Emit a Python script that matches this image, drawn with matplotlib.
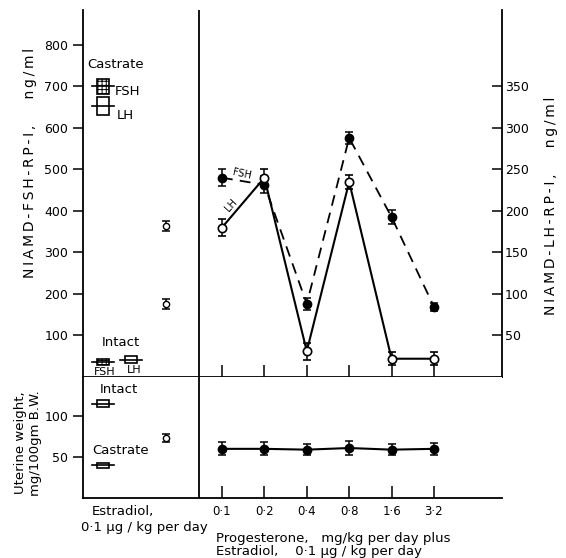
import numpy as np
import matplotlib
matplotlib.use("Agg")
import matplotlib.pyplot as plt
from matplotlib.patches import Rectangle

# Progesterone doses (mg/kg per day), all with estradiol 0.1 ug/kg per day
doses = [0.1, 0.2, 0.4, 0.8, 1.6, 3.2]
dose_labels = ['0·1', '0·2', '0·4', '0·8', '1·6', '3·2']

# Serum FSH (ng/ml, left axis) and LH (ng/ml, right axis), mean and SE
fsh = [480, 463, 176, 576, 385, 169]
fsh_se = [20, 20, 15, 15, 17, 10]
lh = [180, 240, 31, 235, 22, 22]
lh_se = [10, 10, 10, 8, 8, 8]

# Uterine weight, mg/100 gm body weight
uterine = [60, 60, 59, 61, 59, 60]
uterine_se = [8, 8, 7, 8, 7, 7]

# Control groups
castrate_fsh, castrate_fsh_se = 700, 18
castrate_lh, castrate_lh_se = 326, 11
intact_fsh, intact_fsh_se = 36, 7
intact_lh, intact_lh_se = 21, 4
estradiol_fsh, estradiol_fsh_se = 364, 12
estradiol_lh, estradiol_lh_se = 88, 6
uterine_intact, uterine_intact_se = 115, 4
uterine_castrate, uterine_castrate_se = 40, 3
uterine_estradiol, uterine_estradiol_se = 73, 5

plt.rcParams['font.family'] = 'DejaVu Sans'
plt.rcParams['hatch.linewidth'] = 0.7

# doses sit on a log2 scale; control groups to the left of the divider
xpos = np.log2(np.array(doses) / 0.1)
ctrl_x = -2.81      # castrate / intact FSH boxes
ctrl_lh_x = -2.15   # intact LH box
estr_x = -1.32      # estradiol alone
divider_x = -0.54
xlim = (-3.278, 6.604)


def spaced(s):
    # letter-spaced axis titles
    return '\u2009'.join(s)


fig = plt.figure(figsize=(5.66, 5.58), dpi=100)
ax = fig.add_axes([0.1466, 0.3244, 0.7403, 0.6577])
ax2 = ax.twinx()
axb = fig.add_axes([0.1466, 0.1075, 0.7403, 0.2168])

fmax = 884
ax.set_ylim(0, fmax)
ax2.set_ylim(0, fmax / 2)
ax.set_xlim(*xlim)
axb.set_xlim(*xlim)
axb.set_ylim(0, 147.6)

for a in (ax, ax2, axb):
    a.spines['top'].set_visible(False)
ax.spines['right'].set_visible(False)
ax2.spines['left'].set_visible(False)
ax2.spines['bottom'].set_visible(False)
axb.spines['right'].set_visible(False)
for a in (ax, ax2, axb):
    for s in a.spines.values():
        s.set_linewidth(1.3)

ax.set_yticks([100, 200, 300, 400, 500, 600, 700, 800])
ax.tick_params(axis='y', direction='out', length=7, width=1.1, labelsize=9)
ax2.set_yticks([50, 100, 150, 200, 250, 300, 350])
ax2.tick_params(axis='y', direction='in', length=7, width=1.1, labelsize=9, pad=2)
ax.set_xticks(xpos)
ax.set_xticklabels([])
ax.tick_params(axis='x', direction='in', length=9, width=1.1)
axb.set_xticks(xpos)
axb.set_xticklabels(dose_labels, fontsize=8.5)
axb.tick_params(axis='x', direction='in', length=9, width=1.1, pad=5)
axb.set_yticks([50, 100])
axb.tick_params(axis='y', direction='out', length=7, width=1.1, labelsize=9)

ax.axvline(divider_x, color='k', lw=1.3)
axb.axvline(divider_x, color='k', lw=1.3)

ebar = dict(capsize=3, elinewidth=1.1, capthick=1.1)

# FSH (filled, dashed) and LH (open, solid)
ax.plot(xpos, fsh, ls=(0, (6, 4)), color='k', lw=1.3, zorder=2)
ax.errorbar(xpos, fsh, yerr=fsh_se, fmt='o', ms=6, mfc='k', mec='k', color='k', zorder=4, **ebar)
ax2.plot(xpos, lh, '-', color='k', lw=1.5, zorder=2)
ax2.errorbar(xpos, lh, yerr=lh_se, fmt='o', ms=6, mfc='white', mec='k', mew=1.2, color='k', zorder=4, **ebar)

# estradiol alone
ax.errorbar([estr_x], [estradiol_fsh], yerr=[estradiol_fsh_se], fmt='o', ms=4.5, mfc='white', mec='k', color='k', **ebar)
ax2.errorbar([estr_x], [estradiol_lh], yerr=[estradiol_lh_se], fmt='o', ms=4.5, mfc='white', mec='k', color='k', **ebar)


def box(a, x, y, se, hatch=None, half=0.14, line_half=0.26):
    a.add_patch(Rectangle((x - half, y - se), 2 * half, 2 * se, fill=True, facecolor='white',
                          edgecolor='k', lw=1.2, hatch=hatch, zorder=3))
    a.plot([x - line_half, x + line_half], [y, y], color='k', lw=1.2, zorder=4)


box(ax, ctrl_x, castrate_fsh, castrate_fsh_se, hatch='++++')
box(ax2, ctrl_x, castrate_lh, castrate_lh_se)
box(ax, ctrl_x, intact_fsh, intact_fsh_se, hatch='++++')
box(ax2, ctrl_lh_x, intact_lh, intact_lh_se)
box(axb, ctrl_x, uterine_intact, uterine_intact_se)
box(axb, ctrl_x, uterine_castrate, uterine_castrate_se)

# uterine weight
axb.plot(xpos, uterine, '-', color='k', lw=1.5)
axb.errorbar(xpos, uterine, yerr=uterine_se, fmt='o', ms=6, mfc='k', mec='k', color='k', **ebar)
axb.errorbar([estr_x], [uterine_estradiol], yerr=[uterine_estradiol_se], fmt='o', ms=4.5, mfc='white', mec='k', color='k', **ebar)

# group labels
ax.text(-3.18, 752, 'Castrate', fontsize=9.5, va='center', ha='left')
ax.text(-2.52, 687, 'FSH', fontsize=9.5, va='center', ha='left')
ax.text(-2.48, 631, 'LH', fontsize=9.5, va='center', ha='left')
ax.text(-2.83, 84, 'Intact', fontsize=9.5, va='center', ha='left')
ax.text(-2.76, 12, 'FSH', fontsize=8, va='center', ha='center')
ax.text(-2.08, 16, 'LH', fontsize=8, va='center', ha='center')
ax.text(0.47, 489, 'FSH', fontsize=7, va='center', ha='center', rotation=-12)
ax.text(0.21, 414, 'LH', fontsize=7, va='center', ha='center', rotation=48)
axb.text(-2.88, 133, 'Intact', fontsize=9.5, va='center', ha='left')
axb.text(-3.07, 58, 'Castrate', fontsize=9.5, va='center', ha='left')

# axis titles
fig.text(30 / 566, 1 - 163 / 558, spaced('NIAMD-FSH-RP-I,') + '      ' + spaced('ng/ml'),
         rotation=90, fontsize=10, ha='center', va='center')
fig.text(551 / 566, 1 - 206 / 558, spaced('NIAMD-LH-RP-I,') + '      ' + spaced('ng/ml'),
         rotation=90, fontsize=10, ha='center', va='center')
fig.text(28 / 566, 1 - 443 / 558, 'Uterine weight,\nmg/100gm B.W.', rotation=90,
         fontsize=9.5, ha='center', va='center', linespacing=1.1)
fig.text(92 / 566, 1 - 512 / 558, 'Estradiol,', fontsize=9.5, ha='left', va='center')
fig.text(81 / 566, 1 - 527 / 558, '0·1 µg / kg per day', fontsize=9.5, ha='left', va='center')
fig.text(216 / 566, 1 - 545 / 558, 'Progesterone,   mg/kg per day plus\nEstradiol,    0·1 µg / kg per day',
         fontsize=9.5, ha='left', va='center', linespacing=1.0)

fig.savefig('out.png', dpi=100)
